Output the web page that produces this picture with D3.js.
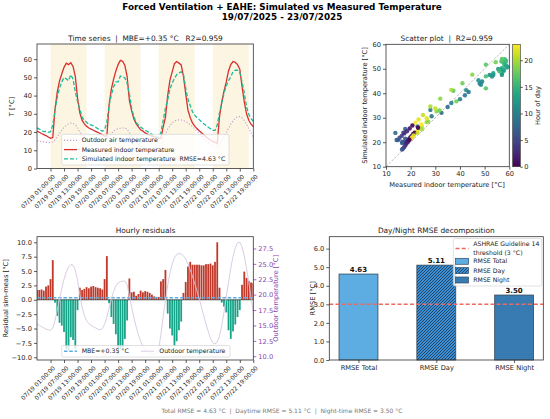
<!DOCTYPE html>
<html lang="en">
<head>
<meta charset="UTF-8">
<title>Forced Ventilation + EAHE: Simulated vs Measured Temperature</title>
<script src="https://d3js.org/d3.v7.min.js"></script>
<style>
  body { margin: 0; background: #fff; }
  svg { display: block; font-family: "DejaVu Sans", sans-serif; }
  svg text { white-space: pre; }
</style>
</head>
<body>
<svg id="chart" width="550" height="419"></svg>
<script>
// Hourly series, first point is 07/18 19:00 on the axis clock (local 07/19 00:00)
const measured = [
  20.6, 19.9, 19.2, 18.6, 18.0, 17.3, 16.6, 17.0,
  32.5, 42.0, 48.0, 52.0, 55.5, 57.8, 57.0, 58.0, 56.0, 50.5, 38.5,
  30.5, 26.5, 24.5, 23.2, 22.2, 21.6, 21.0, 20.4, 19.8, 19.2, 18.6, 17.8, 17.8,
  35.0, 43.5, 49.0, 53.5, 57.0, 59.3, 58.8, 56.5, 50.5,
  37.3, 31.7, 27.1, 24.6, 22.8, 21.2, 20.5, 19.5, 18.9, 18.3, 17.8, 17.3, 16.9, 16.5, 16.5, 22.8, 28.0,
  40.0, 48.5, 53.0, 57.5, 58.7, 57.8, 56.8,
  50.5, 41.0, 32.0, 28.0, 25.0, 23.2, 21.9, 20.7, 19.6, 18.5, 17.4, 16.4, 15.5, 14.9, 14.3, 13.8, 28.5,
  36.5, 42.5, 47.5, 53.5, 57.0, 58.7, 58.2, 57.0, 54.5,
  45.0, 36.5, 30.0, 26.5, 24.3, 23.0
];
const simulated = [
  22.3, 21.6, 21.0, 20.2, 20.3, 19.8, 20.2, 23.9,
  32.0, 39.2, 44.0, 47.5, 49.9, 49.2, 48.2, 51.5, 49.0, 42.0, 36.7,
  32.6, 28.2, 26.4, 25.4, 24.2, 23.9, 23.4, 22.6, 21.9, 21.2, 20.4, 21.4, 25.4,
  34.4, 40.5, 44.8, 47.5, 47.5, 50.7, 50.5, 49.7, 46.9,
  41.0, 33.0, 28.5, 25.3, 23.8, 22.8, 21.8, 21.0, 20.3, 19.5, 18.7, 17.9, 17.4, 17.0, 19.7, 26.4, 33.2,
  37.6, 43.5, 46.8, 49.5, 51.5, 52.5, 53.0,
  51.7, 44.1, 37.8, 34.6, 31.1, 29.3, 28.0, 26.8, 25.6, 24.5, 23.6, 22.6, 21.8, 20.9, 20.9, 23.8, 30.6,
  36.0, 41.3, 45.3, 48.2, 50.2, 53.2, 53.9, 54.0, 52.7,
  47.6, 41.4, 33.8, 29.8, 27.3, 25.9
];
const residual = [
  1.7, 1.7, 1.8, 1.6, 2.3, 2.5, 3.6, 6.9,
  -0.5, -2.8, -4.0, -4.5, -5.6, -8.6, -8.8, -6.5, -7.0, -8.5, -1.8,
  2.1, 1.7, 1.9, 2.2, 2.0, 2.3, 2.4, 2.2, 2.1, 2.0, 1.8, 3.6, 7.6,
  -0.6, -3.0, -4.2, -6.0, -9.5, -8.6, -8.3, -6.8, -3.6,
  3.7, 1.3, 1.4, 0.7, 1.0, 1.6, 1.3, 1.5, 1.4, 1.2, 0.9, 0.6, 0.5, 0.5, 3.2, 3.6, 5.2,
  -2.4, -5.0, -6.2, -8.0, -7.2, -5.3, -3.8,
  1.2, 3.1, 5.8, 6.6, 6.1, 6.1, 6.1, 6.1, 6.0, 6.0, 6.2, 6.2, 6.3, 6.0, 6.6, 10.0, 2.1,
  -0.5, -1.2, -2.2, -5.3, -6.8, -5.5, -4.3, -3.0, -1.8,
  2.6, 4.9, 3.8, 3.3, 3.0, 2.9
];
const outdoor = [
  15.3, 15.0, 14.8, 14.6, 14.4, 14.3, 14.2, 14.6, 15.8, 17.5, 19.3, 21.0, 22.5, 23.7, 24.5, 24.9, 24.8, 24.0, 22.3, 20.0, 18.0, 16.6, 15.8, 15.3,
  15.0, 14.8, 14.6, 14.4, 14.3, 14.5, 15.2, 16.4, 17.8, 19.2, 20.5, 21.4, 21.9, 22.1, 22.2, 22.2, 21.6, 19.8, 18.0, 16.3, 14.8, 13.5, 12.4, 11.6,
  11.0, 10.6, 10.4, 10.3, 10.3, 10.5, 11.2, 13.5, 16.5, 19.0, 21.5, 23.5, 25.0, 26.0, 26.5, 26.7, 26.6, 26.3, 25.8, 25.0, 24.0, 23.0, 21.8, 20.6,
  19.3, 18.0, 16.6, 15.3, 14.0, 12.9, 12.2, 12.0, 12.3, 13.3, 15.0, 17.2, 19.6, 22.0, 24.3, 26.2, 27.6, 28.4, 28.5, 27.8, 26.3, 24.3, 22.0, 19.5,
  17.0
];

const rmseLabels = ["RMSE Total", "RMSE Day", "RMSE Night"];
const rmseValues = [4.63, 5.11, 3.50];
const ashraeLimit = 3;
const mbe = 0.35;
const r2 = 0.959;

const start = new Date(2025, 6, 18, 19, 0);
const clockShift = 5;            // axis clock runs 5 h behind local time
const dayFrom = 6, dayTo = 22;   // daytime, local hours
const times = measured.map((_, i) => d3.timeHour.offset(start, i));
const localHour = t => (t.getHours() + clockShift) % 24;
const tickTimes = d3.range(6, measured.length, 6).map(h => d3.timeHour.offset(start, h));
const fmt = d3.timeFormat("%m/%d %H:%M:%S");

const FONT = "DejaVu Sans";
const svg = d3.select("#chart");
svg.append("rect").attr("width", 550).attr("height", 419).attr("fill", "#fff");

function frame(p) {
  svg.append("rect")
    .attr("x", p.l).attr("y", p.t)
    .attr("width", p.r - p.l).attr("height", p.b - p.t)
    .attr("fill", "none").attr("stroke", "#333").attr("stroke-width", 0.8);
}

function styleAxis(sel, size, color) {
  sel.select(".domain").remove();
  sel.selectAll(".tick line").attr("stroke", color || "#333").attr("stroke-width", 0.8);
  sel.selectAll(".tick text")
    .attr("font-size", size).attr("font-family", FONT).attr("fill", color || "#222");
  return sel;
}

function label(txt, x, y, opts) {
  opts = opts || {};
  const t = svg.append("text")
    .attr("x", x).attr("y", y)
    .attr("text-anchor", opts.anchor || "middle")
    .attr("font-size", opts.size || 6.7)
    .attr("font-weight", opts.weight || "normal")
    .attr("fill", opts.color || "#222")
    .text(txt);
  if (opts.rotate) t.attr("transform", `rotate(${opts.rotate},${x},${y})`);
  return t;
}

function timeAxis(x, p) {
  const ax = svg.append("g").attr("transform", `translate(0,${p.b})`)
    .call(d3.axisBottom(x).tickValues(tickTimes).tickSize(3).tickFormat(fmt));
  styleAxis(ax, 5.9);
  ax.selectAll(".tick text")
    .attr("y", 0).attr("dy", "0.35em").attr("text-anchor", "end")
    .attr("transform", "translate(3,7) rotate(-45)");
}

// daytime spans
const daySpans = [];
times.forEach((t, i) => {
  if (localHour(t) === dayFrom) daySpans.push([times[i], d3.timeHour.offset(times[i], dayTo - dayFrom)]);
});

// ---------- main title ----------
label("Forced Ventilation + EAHE: Simulated vs Measured Temperature", 282, 10, {size: 8.8, weight: "bold", color: "#000"});
label("19/07/2025 - 23/07/2025", 282, 20, {size: 8.8, weight: "bold", color: "#000"});

// ---------- panel 1: time series ----------
const p1 = {l: 37, r: 253.3, t: 44, b: 168.5};
const x1 = d3.scaleTime().domain(d3.extent(times)).range([p1.l, p1.r]);
const y1 = d3.scaleLinear().domain([0, 68.3]).range([p1.b, p1.t]);

svg.append("g").selectAll("rect").data(daySpans).join("rect")
  .attr("x", d => x1(d[0])).attr("y", p1.t)
  .attr("width", d => Math.min(x1(d[1]), p1.r) - x1(d[0])).attr("height", p1.b - p1.t)
  .attr("fill", "#faeccb").attr("opacity", 0.55);

const line1 = d3.line().x((d, i) => x1(times[i])).y(d => y1(d));
svg.append("path").datum(outdoor).attr("d", line1)
  .attr("fill", "none").attr("stroke", "#c39bd3").attr("stroke-width", 1.1).attr("stroke-dasharray", "1.2,1.8");
svg.append("path").datum(measured).attr("d", line1)
  .attr("fill", "none").attr("stroke", "#d9302c").attr("stroke-width", 1.3);
svg.append("path").datum(simulated).attr("d", line1)
  .attr("fill", "none").attr("stroke", "#1abc9c").attr("stroke-width", 1.3).attr("stroke-dasharray", "4,2");

styleAxis(svg.append("g").attr("transform", `translate(${p1.l},0)`)
  .call(d3.axisLeft(y1).tickValues(d3.range(0, 61, 10)).tickSize(3).tickPadding(2)), 6.7);
timeAxis(x1, p1);
frame(p1);
label(`Time series  |  MBE=+${mbe.toFixed(2)} °C   R2=${r2}`, 145.5, 40.5, {size: 7.4});
label("T [°C]", 14, 106.5, {rotate: -90});

// legend 1
const lg1 = svg.append("g");
lg1.append("rect").attr("x", 61.7).attr("y", 134.3).attr("width", 167.3).attr("height", 30.7)
  .attr("rx", 1.5).attr("fill", "#fff").attr("fill-opacity", 0.8).attr("stroke", "#ccc").attr("stroke-width", 0.6);
const legend1 = [
  {t: "Outdoor air temperature", c: "#c39bd3", dash: "1.2,1.8", y: 140.3},
  {t: "Measured indoor temperature", c: "#d9302c", dash: null, y: 149.6},
  {t: `Simulated indoor temperature  RMSE=${rmseValues[0].toFixed(2)} °C`, c: "#1abc9c", dash: "4,2", y: 158.8}
];
legend1.forEach(d => {
  lg1.append("line").attr("x1", 64).attr("x2", 77).attr("y1", d.y).attr("y2", d.y)
    .attr("stroke", d.c).attr("stroke-width", 1.3).attr("stroke-dasharray", d.dash);
  lg1.append("text").attr("x", 81.7).attr("y", d.y).attr("dy", "0.35em")
    .attr("font-size", 6.2).attr("fill", "#222").text(d.t);
});

// ---------- panel 2: scatter ----------
const p2 = {l: 386, r: 509.3, t: 44.3, b: 166.7};
const x2 = d3.scaleLinear().domain([10, 60]).range([p2.l, p2.r]);
const y2 = d3.scaleLinear().domain([10, 60]).range([p2.b, p2.t]);
const hourColor = d3.scaleSequential(d3.interpolateViridis).domain([0, 23]);

svg.append("line").attr("x1", x2(10)).attr("y1", y2(10)).attr("x2", x2(60)).attr("y2", y2(60))
  .attr("stroke", "#999").attr("stroke-width", 0.7).attr("stroke-dasharray", "2.5,1.5");
svg.append("g").selectAll("circle").data(measured).join("circle")
  .attr("cx", d => x2(d)).attr("cy", (d, i) => y2(simulated[i])).attr("r", 2.2)
  .attr("fill", (d, i) => hourColor(localHour(times[i]))).attr("opacity", 0.9);

styleAxis(svg.append("g").attr("transform", `translate(0,${p2.b})`)
  .call(d3.axisBottom(x2).ticks(5).tickSize(3).tickPadding(1.5)), 6.7);
styleAxis(svg.append("g").attr("transform", `translate(${p2.l},0)`)
  .call(d3.axisLeft(y2).ticks(5).tickSize(3).tickPadding(2)), 6.7);
frame(p2);
label(`Scatter plot  |  R2=${r2}`, 446.7, 40.5, {size: 7.4});
label("Measured indoor temperature [°C]", 447, 186.5);
label("Simulated indoor temperature [°C]", 367, 105.5, {rotate: -90});

// colorbar
const cb = {l: 512.7, r: 520.3, t: 44.3, b: 166.7};
const yc = d3.scaleLinear().domain([0, 23]).range([cb.b, cb.t]);
const grad = svg.append("defs").append("linearGradient").attr("id", "viridis")
  .attr("x1", 0).attr("y1", 1).attr("x2", 0).attr("y2", 0);
d3.range(0, 1.001, 0.1).forEach(s => grad.append("stop").attr("offset", s).attr("stop-color", d3.interpolateViridis(s)));
svg.append("rect").attr("x", cb.l).attr("y", cb.t).attr("width", cb.r - cb.l).attr("height", cb.b - cb.t)
  .attr("fill", "url(#viridis)").attr("stroke", "#333").attr("stroke-width", 0.6);
styleAxis(svg.append("g").attr("transform", `translate(${cb.r},0)`)
  .call(d3.axisRight(yc).tickValues([0, 5, 10, 15, 20]).tickSize(2.5).tickPadding(1.5)), 6.7);
label("Hour of day", 539.5, 105.5, {rotate: -90});

// ---------- panel 3: residuals ----------
const p3 = {l: 37, r: 253.3, t: 236.7, b: 360};
const x3 = d3.scaleTime().domain(d3.extent(times)).range([p3.l, p3.r]);
const pad = (ext, f) => [ext[0] - (ext[1] - ext[0]) * f, ext[1] + (ext[1] - ext[0]) * f];
const y3 = d3.scaleLinear().domain(pad(d3.extent(residual), 0.05)).range([p3.b, p3.t]);
const y3r = d3.scaleLinear().domain(pad(d3.extent(outdoor), 0.05)).range([p3.b, p3.t]);
const hourPx = x3(times[1]) - x3(times[0]);

svg.append("defs").append("clipPath").attr("id", "clip3").append("rect")
  .attr("x", p3.l).attr("y", p3.t).attr("width", p3.r - p3.l).attr("height", p3.b - p3.t);
const g3 = svg.append("g").attr("clip-path", "url(#clip3)");

g3.selectAll("rect.bar").data(residual).join("rect").attr("class", "bar")
  .attr("x", (d, i) => x3(times[i]) - hourPx * 0.4).attr("width", hourPx * 0.8)
  .attr("y", d => y3(Math.max(0, d))).attr("height", d => Math.abs(y3(d) - y3(0)))
  .attr("fill", d => d >= 0 ? "#c0392b" : "#17a589");
g3.append("line").attr("x1", p3.l).attr("x2", p3.r).attr("y1", y3(0)).attr("y2", y3(0))
  .attr("stroke", "#222").attr("stroke-width", 0.7);
g3.append("line").attr("x1", p3.l).attr("x2", p3.r).attr("y1", y3(mbe)).attr("y2", y3(mbe))
  .attr("stroke", "#5dade2").attr("stroke-width", 1.6).attr("stroke-dasharray", "3.5,1.8");
const line3 = d3.line().x((d, i) => x3(times[i])).y(d => y3r(d));
g3.append("path").datum(outdoor).attr("d", line3)
  .attr("fill", "none").attr("stroke", "#d7c6e0").attr("stroke-width", 0.9);

styleAxis(svg.append("g").attr("transform", `translate(${p3.l},0)`)
  .call(d3.axisLeft(y3).tickValues(d3.range(-10, 10.1, 2.5)).tickFormat(d3.format(".1f")).tickSize(3).tickPadding(2)), 6.7);
styleAxis(svg.append("g").attr("transform", `translate(${p3.r},0)`)
  .call(d3.axisRight(y3r).tickValues(d3.range(10, 28, 2.5)).tickFormat(d3.format(".1f")).tickSize(3).tickPadding(2)), 6.7, "#8e44ad");
timeAxis(x3, p3);
frame(p3);
label("Hourly residuals", 145.5, 232.5, {size: 7.4});
label("Residual sim-meas [°C]", 8.5, 298.3, {rotate: -90});
label("Outdoor temperature [°C]", 278.5, 298.3, {rotate: -90, color: "#8e44ad"});

// legend 3
const lg3 = svg.append("g");
lg3.append("rect").attr("x", 61.7).attr("y", 345.5).attr("width", 168.3).attr("height", 11.5)
  .attr("rx", 1.5).attr("fill", "#fff").attr("fill-opacity", 0.8).attr("stroke", "#ccc").attr("stroke-width", 0.6);
lg3.append("line").attr("x1", 64).attr("x2", 77).attr("y1", 351.2).attr("y2", 351.2)
  .attr("stroke", "#5dade2").attr("stroke-width", 1.6).attr("stroke-dasharray", "3.5,1.8");
lg3.append("text").attr("x", 81.7).attr("y", 351.2).attr("dy", "0.35em").attr("font-size", 6.2).attr("fill", "#222")
  .text(`MBE=+${mbe.toFixed(2)} °C`);
lg3.append("line").attr("x1", 141).attr("x2", 154).attr("y1", 351.2).attr("y2", 351.2)
  .attr("stroke", "#d7c6e0").attr("stroke-width", 0.9);
lg3.append("text").attr("x", 159.3).attr("y", 351.2).attr("dy", "0.35em").attr("font-size", 6.2).attr("fill", "#222")
  .text("Outdoor temperature");

// ---------- panel 4: RMSE bars ----------
const p4 = {l: 329.3, r: 543.3, t: 236.7, b: 360};
const x4 = d3.scaleLinear().domain([-0.375, rmseLabels.length - 1 + 0.375]).range([p4.l, p4.r]);
const y4 = d3.scaleLinear().domain([0, d3.max(rmseValues) * 1.3]).range([p4.b, p4.t]);
const barW = x4(0.5) - x4(0);

const defs = svg.append("defs");
const hatch = defs.append("pattern").attr("id", "hatchDay").attr("patternUnits", "userSpaceOnUse")
  .attr("width", 3).attr("height", 3);
hatch.append("rect").attr("width", 3).attr("height", 3).attr("fill", "#3a8fd6");
hatch.append("path").attr("d", "M-1,1 L1,-1 M0,3 L3,0 M2,4 L4,2").attr("stroke", "#1b2631").attr("stroke-width", 0.7);
const dots = defs.append("pattern").attr("id", "dotNight").attr("patternUnits", "userSpaceOnUse")
  .attr("width", 2).attr("height", 2);
dots.append("rect").attr("width", 2).attr("height", 2).attr("fill", "#3b84bf");
dots.append("circle").attr("cx", 1).attr("cy", 1).attr("r", 0.45).attr("fill", "#1b3a52");
const barFill = ["#5dade2", "url(#hatchDay)", "url(#dotNight)"];

svg.append("g").selectAll("rect").data(rmseValues).join("rect")
  .attr("x", (d, i) => x4(i) - barW / 2).attr("width", barW)
  .attr("y", d => y4(d)).attr("height", d => y4(0) - y4(d))
  .attr("fill", (d, i) => barFill[i]).attr("stroke", "#34495e").attr("stroke-width", 0.8);
svg.append("g").selectAll("text").data(rmseValues).join("text")
  .attr("x", (d, i) => x4(i)).attr("y", d => y4(d) - 2.5)
  .attr("text-anchor", "middle").attr("font-size", 7).attr("font-weight", "bold").attr("fill", "#111")
  .text(d => d.toFixed(2));
svg.append("line").attr("x1", p4.l).attr("x2", p4.r).attr("y1", y4(ashraeLimit)).attr("y2", y4(ashraeLimit))
  .attr("stroke", "#ec6b5e").attr("stroke-width", 1.5).attr("stroke-dasharray", "4,2.2");

styleAxis(svg.append("g").attr("transform", `translate(${p4.l},0)`)
  .call(d3.axisLeft(y4).tickValues(d3.range(0, 7)).tickSize(3).tickPadding(2)), 6.7);
styleAxis(svg.append("g").attr("transform", `translate(0,${p4.b})`)
  .call(d3.axisBottom(x4).tickValues(d3.range(rmseLabels.length)).tickFormat(i => rmseLabels[i]).tickSize(3).tickPadding(2)), 6.7);
frame(p4);
label("Day/Night RMSE decomposition", 436.3, 232.5, {size: 7.4});
label("RMSE [°C]", 315, 298.3, {rotate: -90});

// legend 4
const lg4 = svg.append("g");
lg4.append("rect").attr("x", 453.3).attr("y", 238.5).attr("width", 88.4).attr("height", 47.5)
  .attr("rx", 1.5).attr("fill", "#fff").attr("fill-opacity", 0.8).attr("stroke", "#ccc").attr("stroke-width", 0.6);
lg4.append("line").attr("x1", 455.5).attr("x2", 468.5).attr("y1", 248.5).attr("y2", 248.5)
  .attr("stroke", "#ec6b5e").attr("stroke-width", 1.5).attr("stroke-dasharray", "4,2.2");
lg4.append("text").attr("x", 473.3).attr("y", 244.3).attr("dy", "0.35em").attr("font-size", 6.2).attr("fill", "#222")
  .text("ASHRAE Guideline 14");
lg4.append("text").attr("x", 473.3).attr("y", 252.4).attr("dy", "0.35em").attr("font-size", 6.2).attr("fill", "#222")
  .text(`threshold (${ashraeLimit} °C)`);
rmseLabels.forEach((name, i) => {
  const yy = 261.3 + i * 9.35;
  lg4.append("rect").attr("x", 455.5).attr("y", yy - 3).attr("width", 13).attr("height", 6)
    .attr("fill", barFill[i]).attr("stroke", "#34495e").attr("stroke-width", 0.7);
  lg4.append("text").attr("x", 473.3).attr("y", yy).attr("dy", "0.35em").attr("font-size", 6.2).attr("fill", "#222")
    .text(name);
});

// ---------- footer ----------
label(`Total RMSE = ${rmseValues[0].toFixed(2)} °C  |  Daytime RMSE = ${rmseValues[1].toFixed(2)} °C  |  Night-time RMSE = ${rmseValues[2].toFixed(2)} °C`,
  282, 412.5, {size: 6, color: "#777"});
</script>
</body>
</html>
